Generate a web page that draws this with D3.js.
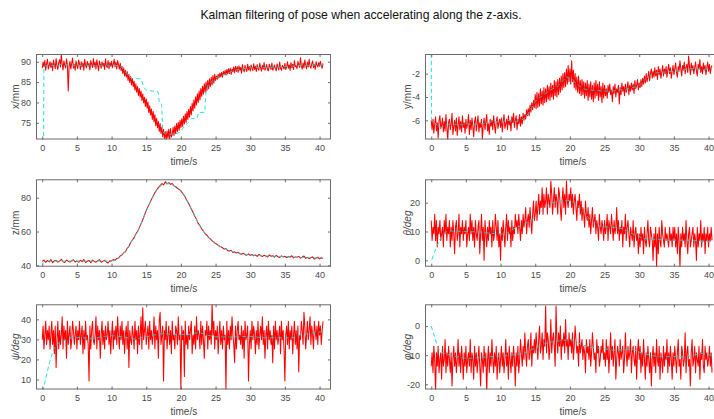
<!DOCTYPE html>
<html><head><meta charset="utf-8">
<script src="https://cdn.jsdelivr.net/npm/d3@7"></script>
<style>
body{margin:0;background:#fff;}
svg{display:block;}
text{font-family:"Liberation Sans",Arial,Helvetica,sans-serif;}
</style>
</head><body>
<svg id="chart" width="714" height="419"></svg>
<script>
const chartTitle = "Kalman filtering of pose when accelerating along the z-axis.";
const xAxisLabel = "time/s";
const timeTicks = [0, 5, 10, 15, 20, 25, 30, 35, 40];

// ---- measured (red) series; sampling interval in seconds, from t = 0 ----
const xStep = 0.125;
const xMeasured = [
88.4,89.9,88.8,90.3,87.9,89.5,90.6,88.2,89.1,90.0,88.6,89.7,87.8,90.4,89.2,88.3,90.8,89.0,88.1,89.8,90.5,88.7,91.8,89.4,88.0,90.2,89.1,88.5,90.7,89.3,82.8,88.9,90.1,88.2,89.6,90.9,88.4,89.3,87.9,90.2,
89.0,88.3,90.4,89.5,88.1,90.0,88.8,89.7,87.9,90.6,89.2,88.5,90.1,88.9,89.6,88.0,90.3,89.4,88.6,90.8,88.7,89.9,88.2,90.5,89.1,87.8,90.2,89.3,88.4,90.0,88.9,89.6,88.1,90.7,89.0,88.6,90.3,88.3,89.8,88.9,
90.1,88.5,89.4,90.6,88.7,89.9,88.2,90.3,89.3,88.2,89.6,87.8,88.9,87.1,88.5,86.5,87.9,86.2,87.6,85.4,86.9,84.9,86.4,84.3,85.9,83.9,85.2,83.0,84.6,82.5,83.9,81.7,83.4,81.3,82.8,80.5,82.1,79.9,81.3,79.0,
80.9,78.6,80.1,77.5,79.2,76.9,78.4,75.8,77.8,75.2,77.0,74.3,76.1,73.8,75.3,72.9,74.8,72.4,73.9,71.6,73.4,71.1,72.8,70.8,73.0,71.2,73.4,71.0,73.6,71.5,72.1,73.9,71.9,74.2,72.3,74.8,72.9,75.1,73.2,75.6,
73.8,76.0,74.1,76.6,74.7,77.2,75.1,77.8,75.8,78.3,76.4,79.0,77.0,79.8,77.9,80.6,78.6,81.4,79.4,82.1,80.0,82.8,80.6,83.4,81.5,84.0,82.0,84.6,82.5,85.0,82.9,85.4,83.4,85.8,83.9,86.2,84.3,86.6,84.7,86.9,
85.4,86.5,85.7,86.9,86.0,87.2,86.3,87.4,86.2,87.6,86.8,87.9,86.7,88.1,87.0,88.3,87.1,88.4,86.9,88.2,87.5,88.7,87.3,88.9,87.6,88.8,87.4,89.0,87.9,88.6,87.2,89.3,88.0,87.5,89.1,88.2,87.6,89.4,88.0,88.8,
87.7,89.2,88.4,87.8,89.5,88.1,88.9,87.6,89.3,88.3,87.9,89.6,88.5,87.7,89.1,88.2,89.8,87.9,88.6,89.3,88.0,87.8,89.4,88.7,88.1,89.7,87.9,88.5,89.2,88.3,87.8,89.5,88.6,88.0,89.9,88.4,87.9,89.1,88.8,88.2,
89.6,88.1,88.7,90.0,88.4,89.2,87.9,89.8,88.5,89.4,88.1,90.3,88.8,89.0,88.3,90.1,89.2,88.6,91.0,88.9,88.2,89.7,88.5,90.4,89.1,88.3,89.9,88.7,90.6,88.9,88.4,89.5,90.2,88.6,89.3,88.1,90.0,89.2,88.7,89.8,
88.9,90.1,89.0,88.4,89.6];

const yStep = 0.125;
const yMeasured = [
-6.0,-6.8,-5.9,-7.1,-6.3,-5.7,-6.9,-6.2,-7.5,-6.0,-5.6,-6.7,-6.4,-5.8,-7.0,-6.1,-6.9,-5.5,-6.6,-7.7,-6.2,-5.9,-6.8,-6.3,-5.4,-7.2,-6.5,-6.0,-6.9,-5.8,-7.3,-6.4,-5.7,-6.8,-6.1,-7.0,-5.6,-6.6,-6.2,-7.1,
-5.9,-6.7,-6.3,-5.5,-7.2,-6.0,-6.8,-5.8,-6.5,-7.4,-6.1,-5.7,-6.9,-6.3,-5.6,-7.0,-6.2,-6.6,-5.9,-7.6,-6.4,-5.8,-6.8,-6.1,-5.5,-6.9,-6.3,-7.2,-5.9,-6.5,-6.0,-6.8,-5.6,-6.4,-7.1,-6.1,-5.7,-6.7,-6.2,-5.9,
-6.6,-5.8,-7.0,-6.1,-5.5,-6.7,-6.3,-5.9,-6.8,-5.6,-6.4,-6.0,-6.9,-5.7,-6.2,-5.4,-6.6,-6.0,-5.6,-6.8,-5.9,-6.3,-5.5,-6.5,-5.7,-6.3,-5.4,-6.0,-5.5,-5.9,-5.1,-5.6,-5.0,-5.6,-4.7,-5.3,-4.5,-5.1,-4.3,-4.9,
-3.8,-5.0,-3.6,-4.9,-3.7,-4.8,-3.3,-4.6,-3.5,-4.7,-3.2,-4.5,-3.3,-4.4,-3.0,-4.2,-3.1,-4.3,-2.8,-4.0,-3.0,-4.2,-2.6,-3.9,-2.7,-4.0,-2.5,-3.8,-2.4,-3.6,-2.2,-3.4,-2.0,-3.2,-1.9,-3.1,-1.6,-2.9,-1.3,-2.7,
-1.6,-2.9,-0.9,-2.7,-1.7,-3.2,-2.0,-3.4,-2.3,-3.6,-2.2,-3.7,-2.6,-3.9,-2.5,-3.8,-2.7,-4.1,-2.8,-3.9,-2.6,-4.3,-2.9,-4.0,-2.7,-4.2,-3.0,-4.4,-2.8,-4.1,-2.6,-3.9,-2.9,-4.3,-2.7,-4.0,-3.1,-4.5,-2.8,-4.1,
-3.0,-3.9,-3.3,-4.1,-3.0,-3.6,-2.9,-3.8,-3.4,-4.4,-3.1,-3.7,-2.9,-4.0,-3.3,-3.6,-3.0,-4.6,-3.2,-3.8,-2.8,-3.5,-3.1,-3.9,-2.9,-3.6,-3.2,-2.7,-3.8,-3.0,-3.5,-2.8,-3.4,-2.9,-3.7,-2.6,-3.3,-3.0,-2.5,-3.4,
-2.8,-3.2,-2.5,-3.1,-2.4,-2.9,-2.2,-2.8,-2.0,-2.7,-2.3,-1.8,-2.6,-2.0,-1.6,-2.4,-1.8,-2.3,-1.5,-2.2,-1.7,-2.5,-1.4,-2.1,-1.6,-2.4,-1.9,-1.3,-2.2,-1.6,-2.0,-1.4,-2.3,-1.7,-1.2,-2.0,-1.5,-2.4,-1.8,-1.3,
-2.1,-1.6,-1.1,-1.9,-2.3,-1.4,-1.8,-0.9,-1.6,-2.2,-1.3,-1.7,-1.0,-2.0,-1.5,-1.2,-1.9,-0.5,-1.4,-2.1,-1.1,-1.7,-1.3,-2.0,-1.5,-1.0,-1.8,-2.2,-1.2,-1.6,-0.8,-1.9,-1.4,-2.0,-1.1,-1.7,-1.3,-2.1,-1.5,-1.0,
-1.8,-1.2,-2.0,-1.5,-1.3];

const zStep = 0.25;
const zMeasured = [
42.3,43.1,41.8,42.9,42.0,43.4,41.6,42.7,43.0,41.9,42.5,43.6,42.1,41.7,43.2,42.4,41.9,42.8,43.3,42.0,
42.6,41.8,43.0,42.2,43.5,41.7,42.4,42.9,41.6,43.1,42.3,41.9,42.8,43.4,41.8,42.5,43.0,42.0,41.4,42.7,
42.6,43.4,43.0,44.1,44.3,45.6,46.2,47.4,48.0,50.1,51.2,53.5,55.0,56.4,58.6,60.0,62.3,64.6,67.0,69.8,
72.4,74.6,76.8,79.0,81.0,82.9,84.6,86.0,87.1,88.4,87.6,89.5,88.2,88.9,87.9,88.4,87.0,86.5,85.6,84.9,
84.0,82.6,81.3,79.2,77.5,75.6,73.3,71.4,69.0,67.2,64.8,63.4,61.5,60.2,58.7,57.9,56.4,55.6,54.5,53.8,
52.9,52.3,51.5,51.0,50.4,49.6,49.9,48.7,48.5,48.9,47.6,48.0,47.3,47.8,46.9,46.6,47.2,46.3,46.0,46.8,
45.9,46.4,45.6,46.1,45.3,46.5,45.8,45.2,46.0,45.5,44.9,46.2,45.4,45.7,44.8,45.9,45.1,44.7,45.6,45.0,
45.4,44.6,45.2,44.9,45.7,44.4,45.0,44.8,45.3,44.2,44.9,45.5,44.1,44.7,43.9,44.6,45.0,43.7,44.3,44.8,
43.8,44.5,44.1];

const thetaStep = 0.125;
const thetaMeasured = [
13.8,6.9,11.5,9.2,16.0,6.9,13.8,4.6,11.5,9.2,13.8,6.9,9.2,11.5,4.6,13.8,9.2,16.0,6.9,11.5,9.2,13.8,4.6,11.5,6.9,13.8,9.2,2.3,11.5,13.8,6.9,9.2,16.0,4.6,11.5,9.2,13.8,6.9,11.5,9.2,
13.8,4.6,9.2,11.5,6.9,16.0,9.2,13.8,6.9,11.5,4.6,13.8,9.2,6.9,11.5,13.8,2.3,9.2,16.0,6.9,11.5,0.0,13.8,9.2,4.6,11.5,6.9,13.8,9.2,11.5,4.6,13.8,6.9,9.2,16.0,11.5,6.9,13.8,4.6,9.2,
0.0,11.5,6.9,13.8,9.2,4.6,11.5,16.0,6.9,13.8,9.2,11.5,4.6,13.8,6.9,11.5,9.2,16.0,11.5,13.8,9.2,16.0,11.5,6.9,13.8,9.2,16.0,11.5,13.8,18.3,9.2,13.8,16.0,11.5,18.3,13.8,9.2,16.0,20.6,13.8,
16.0,20.6,13.8,18.3,22.9,16.0,20.6,18.3,25.2,16.0,22.9,18.3,20.6,25.2,16.0,22.9,20.6,18.3,27.5,22.9,16.0,20.6,25.2,18.3,22.9,20.6,16.0,25.2,22.9,18.3,13.8,20.6,25.2,18.3,22.9,16.0,27.5,20.6,18.3,22.9,
20.6,25.2,18.3,22.9,16.0,20.6,22.9,18.3,13.8,20.6,18.3,22.9,16.0,20.6,13.8,18.3,16.0,11.5,20.6,16.0,13.8,18.3,11.5,16.0,9.2,13.8,18.3,11.5,13.8,16.0,9.2,13.8,11.5,6.9,16.0,11.5,9.2,13.8,11.5,6.9,
13.8,9.2,11.5,16.0,6.9,13.8,11.5,9.2,16.0,11.5,6.9,13.8,9.2,11.5,18.3,9.2,13.8,6.9,11.5,9.2,13.8,4.6,11.5,9.2,16.0,6.9,11.5,13.8,9.2,4.6,11.5,9.2,6.9,13.8,4.6,9.2,11.5,6.9,9.2,2.3,
9.2,4.6,11.5,6.9,9.2,2.3,11.5,6.9,4.6,9.2,13.8,6.9,4.6,11.5,9.2,6.9,0.0,9.2,4.6,11.5,-2.3,9.2,2.3,11.5,6.9,4.6,13.8,9.2,6.9,4.6,11.5,6.9,9.2,6.9,4.6,11.5,6.9,9.2,4.6,11.5,
6.9,11.5,4.6,9.2,2.3,11.5,6.9,-2.3,9.2,4.6,11.5,6.9,9.2,4.6,13.8,6.9,2.3,9.2,11.5,4.6,6.9,9.2,11.5,4.6,9.2,6.9,0.0,11.5,4.6,9.2,6.9,13.8,4.6,9.2,6.9,11.5,2.3,9.2,6.9,11.5,
4.6,9.2,6.9,11.5,6.9];

const psiStep = 0.125;
const psiMeasured = [
29.8,36.7,25.2,32.1,39.0,27.5,34.4,29.8,36.7,25.2,32.1,39.0,27.5,34.4,22.9,36.7,16.0,29.8,39.0,25.2,34.4,27.5,32.1,41.3,25.2,36.7,29.8,34.4,20.6,39.0,27.5,32.1,36.7,25.2,29.8,39.0,34.4,27.5,32.1,36.7,
25.2,34.4,29.8,39.0,27.5,32.1,36.7,22.9,34.4,25.2,39.0,29.8,32.1,27.5,9.2,36.7,25.2,34.4,39.0,29.8,27.5,32.1,41.3,25.2,36.7,29.8,34.4,20.6,32.1,39.0,27.5,34.4,25.2,36.7,29.8,32.1,39.0,27.5,34.4,22.9,
32.1,39.0,25.2,34.4,29.8,36.7,27.5,41.3,32.1,25.2,36.7,29.8,39.0,27.5,34.4,22.9,32.1,36.7,25.2,39.0,16.0,34.4,29.8,27.5,36.7,32.1,25.2,39.0,29.8,34.4,22.9,36.7,27.5,32.1,41.3,25.2,45.8,29.8,34.4,39.0,
27.5,32.1,36.7,25.2,39.0,29.8,34.4,27.5,32.1,41.3,25.2,36.7,29.8,34.4,20.6,39.0,43.5,27.5,32.1,36.7,9.2,34.4,29.8,39.0,25.2,32.1,36.7,27.5,34.4,22.9,39.0,29.8,32.1,25.2,36.7,34.4,27.5,41.3,29.8,32.1,
4.6,36.7,29.8,34.4,11.5,39.0,27.5,32.1,25.2,36.7,29.8,34.4,39.0,22.9,32.1,27.5,36.7,25.2,41.3,29.8,34.4,32.1,25.2,39.0,27.5,36.7,29.8,20.6,34.4,32.1,39.0,25.2,36.7,29.8,34.4,27.5,48.1,32.1,39.0,25.2,
34.4,29.8,36.7,22.9,32.1,39.0,27.5,34.4,25.2,36.7,29.8,32.1,4.6,39.0,27.5,34.4,25.2,36.7,29.8,41.3,32.1,27.5,18.3,36.7,25.2,34.4,39.0,29.8,32.1,27.5,36.7,25.2,34.4,20.6,39.0,29.8,32.1,36.7,9.2,27.5,
34.4,25.2,39.0,29.8,36.7,32.1,22.9,34.4,27.5,39.0,25.2,32.1,36.7,29.8,41.3,27.5,34.4,20.6,32.1,36.7,25.2,39.0,29.8,34.4,27.5,32.1,18.3,36.7,25.2,39.0,29.8,34.4,27.5,32.1,36.7,22.9,39.0,29.8,34.4,25.2,
9.2,32.1,36.7,27.5,39.0,25.2,34.4,29.8,36.7,22.9,32.1,39.0,27.5,34.4,25.2,36.7,13.8,32.1,29.8,39.0,34.4,27.5,43.5,36.7,25.2,32.1,39.0,29.8,34.4,41.3,27.5,36.7,32.1,25.2,39.0,34.4,29.8,36.7,27.5,39.0,
32.1,36.7,27.5,34.4,39.0];

const phiStep = 0.125;
const phiMeasured = [
-13.8,-9.2,-16.0,-6.9,-11.5,-22.9,-9.2,-13.8,-6.9,-16.0,-11.5,-9.2,-18.3,-6.9,-13.8,-11.5,-4.6,-16.0,-9.2,-13.8,-6.9,-11.5,-16.0,-9.2,-20.6,-11.5,-6.9,-13.8,-9.2,-16.0,-11.5,-4.6,-13.8,-9.2,-16.0,-6.9,-11.5,-18.3,-9.2,-13.8,
-6.9,-16.0,-11.5,-9.2,-13.8,-4.6,-16.0,-9.2,-11.5,-18.3,-6.9,-13.8,-9.2,-16.0,-11.5,-6.9,-13.8,-20.6,-9.2,-11.5,-16.0,-6.9,-13.8,-9.2,-22.9,-11.5,-6.9,-16.0,-9.2,-13.8,-4.6,-11.5,-16.0,-9.2,-13.8,-6.9,-18.3,-11.5,-9.2,-16.0,
-11.5,-6.9,-13.8,-9.2,-16.0,-11.5,-4.6,-13.8,-9.2,-18.3,-6.9,-11.5,-16.0,-9.2,-13.8,-6.9,-11.5,-20.6,-9.2,-13.8,-6.9,-16.0,-11.5,-4.6,-9.2,-13.8,-6.9,-11.5,-2.3,-9.2,-13.8,-6.9,-4.6,-11.5,-9.2,-2.3,-13.8,-6.9,-9.2,-4.6,
-9.2,-2.3,-6.9,-11.5,-4.6,0.0,-9.2,-6.9,-2.3,-11.5,-4.6,-6.9,6.9,-9.2,-2.3,-4.6,-11.5,-6.9,2.3,-9.2,-4.6,-2.3,-6.9,-13.8,6.9,-4.6,-9.2,-2.3,-6.9,0.0,-11.5,-4.6,-6.9,-2.3,-9.2,2.3,-6.9,-4.6,-11.5,-2.3,
-6.9,-4.6,-9.2,-2.3,-11.5,-6.9,0.0,-4.6,-9.2,-6.9,-13.8,-2.3,-9.2,-6.9,-4.6,-11.5,-6.9,-9.2,-16.0,-4.6,-9.2,-6.9,-11.5,-4.6,-13.8,-9.2,-2.3,-6.9,-11.5,-9.2,-16.0,-4.6,-9.2,-6.9,-13.8,-11.5,-6.9,-9.2,-4.6,-11.5,
-9.2,-13.8,-4.6,-11.5,-6.9,-16.0,-9.2,-2.3,-11.5,-6.9,-13.8,-9.2,-4.6,-18.3,-11.5,-6.9,-9.2,-13.8,-4.6,-11.5,-9.2,-6.9,-16.0,-11.5,-2.3,-9.2,-13.8,-6.9,-11.5,-9.2,-4.6,-16.0,-9.2,-6.9,-11.5,-13.8,-6.9,-18.3,-9.2,-4.6,
-11.5,-6.9,-16.0,-9.2,-13.8,-4.6,-11.5,-18.3,-9.2,-13.8,-6.9,-11.5,-16.0,-9.2,-20.6,-11.5,-6.9,-13.8,-9.2,-16.0,-4.6,-11.5,-13.8,-6.9,-18.3,-9.2,-11.5,-16.0,-6.9,-13.8,-9.2,-11.5,-4.6,-16.0,-9.2,-13.8,-6.9,-11.5,-18.3,-9.2,
-13.8,-6.9,-11.5,-16.0,-9.2,-4.6,-13.8,-11.5,-18.3,-6.9,-9.2,-13.8,-11.5,-2.3,-16.0,-9.2,-6.9,-13.8,-11.5,-20.6,-9.2,-4.6,-13.8,-11.5,-6.9,-16.0,-9.2,-11.5,-13.8,-6.9,-18.3,-9.2,-11.5,-4.6,-13.8,-16.0,-6.9,-11.5,-9.2,-13.8,
-11.5,-6.9,-13.8,-9.2,-16.0];

// ---- Kalman-filtered (cyan) estimates: times and values ----
const xFilteredT = [0.2,0.25,0.5,1,2,3,4,5,6,7,8,9,10,11,11.5,12,12.5,13,14.2,14.5,15,16.7,16.9,17.2,17.4,18,19,19.8,20.5,21.2,21.5,22.3,22.6,23.4,23.6,24,24.5,25,26,27,28,29,30,32,34,36,38,40,40.5];
const xFilteredV = [70.0,88.8,89.0,89.2,89.0,89.4,89.1,89.0,89.2,89.1,88.9,89.2,89.1,89.0,88.6,87.5,86.5,85.9,85.8,84.5,83.0,82.6,80.0,79.5,72.8,72.2,72.3,72.6,74.2,75.3,76.0,76.1,77.5,77.6,82.0,84.5,85.2,85.9,86.7,87.4,88.0,88.3,88.5,88.6,88.7,88.9,89.1,89.2,89.2];
const yFilteredT = [0,0.05,0.5,1,1.5,2,3,4,5,6,7,8,9,10,11,12,13,13.5,14,14.5,15,15.5,16,16.5,17,17.5,18,18.5,19,19.5,20,20.5,21,21.5,22,23,24,25,26,27,28,29,30,30.5,31,31.5,32,33,34,35,36,37,38,39,40,40.5];
const yFilteredV = [-0.3,-6.0,-6.2,-6.5,-6.6,-6.4,-6.3,-6.4,-6.3,-6.35,-6.3,-6.25,-6.1,-6.15,-6.0,-6.1,-5.95,-5.8,-5.4,-4.9,-4.4,-4.1,-3.9,-3.7,-3.5,-3.3,-3.2,-2.9,-2.6,-2.3,-2.4,-2.6,-2.9,-3.1,-3.3,-3.4,-3.45,-3.5,-3.5,-3.4,-3.35,-3.2,-3.0,-2.7,-2.4,-2.2,-2.0,-1.9,-1.85,-1.8,-1.7,-1.6,-1.55,-1.65,-1.6,-1.6];
const zFilteredT = [0,0.3,1,5,10,10.5,11,11.5,12,13,14,15,16,16.5,17,17.5,18,18.5,19,19.5,20,21,22,23,24,25,26,27,28,29,30,32,34,36,38,40,40.5];
const zFilteredV = [40.6,42.3,42.5,42.5,42.6,43.2,44.3,46.0,48.3,55.0,62.3,72.0,80.8,84.3,86.8,88.0,88.4,88.1,87.0,85.6,83.8,77.3,69.0,61.6,56.5,53.0,50.5,48.8,47.6,46.8,46.2,45.6,45.3,45.0,44.6,44.3,44.2];
const thetaFilteredT = [0.1,1.3,2,3,5,7,9,10.5,11.9,12.5,14.3,15,15.7,17.1,18,19.5,20,21,22.4,23,23.9,25.8,27.7,28.5,29.6,31.1,33,34.4,37.3,39.7,40.5];
const thetaFilteredV = [0.35,7.4,9.7,10.2,10.0,9.8,9.3,9.1,10.9,11.6,13.8,15.0,16.7,19.6,20.3,20.8,20.7,19.1,15.6,14.0,12.1,11.5,10.9,9.8,8.6,7.4,7.2,7.0,7.0,6.5,6.6];
const psiFilteredT = [0.1,2,3,3.5,4.5,5,7,9,10,12,13,15,17.5,19,20,21,22.5,24,25,27,30,32,35,36.5,37,38.5,40,40.5];
const psiFilteredV = [4.0,27.0,29.0,30.0,31.0,31.0,30.5,31.5,31.8,31.0,30.2,31.3,32.8,32.4,32.5,32.4,33.3,32.0,31.3,31.2,31.5,30.8,30.8,31.0,32.0,32.8,33.7,33.8];
const phiFilteredT = [0,0.5,1.05,1.5,2.7,4,5.1,6,8.5,11.4,13.8,15.2,17.1,18.5,20,21,22,23,24.8,26.3,28.7,30.6,33,36.4,38,39.2,40.7];
const phiFilteredV = [0.0,-3.8,-7.7,-8.8,-10.0,-10.6,-11.1,-11.0,-10.5,-10.0,-8.9,-7.2,-5.5,-5.1,-4.7,-5.6,-6.6,-7.3,-7.7,-8.3,-8.0,-9.4,-10.5,-10.5,-9.9,-9.4,-10.5];

// ---- y-axis tick values per panel ----
const xTicksY = [75, 80, 85, 90];
const yTicksY = [-6, -4, -2];
const zTicksY = [40, 60, 80];
const thetaTicksY = [0, 10, 20];
const psiTicksY = [10, 20, 30, 40];
const phiTicksY = [-20, -10, 0];

const panels = [
  {label:"x/mm", meas:xMeasured, step:xStep, fT:xFilteredT, fV:xFilteredV, dom:[70.9,91.9], ticks:xTicksY, col:0, row:0},
  {label:"y/mm", meas:yMeasured, step:yStep, fT:yFilteredT, fV:yFilteredV, dom:[-7.64,-0.32], ticks:yTicksY, col:1, row:0},
  {label:"z/mm", meas:zMeasured, step:zStep, fT:zFilteredT, fV:zFilteredV, dom:[39.2,90.9], ticks:zTicksY, col:0, row:1},
  {label:"θ/deg", meas:thetaMeasured, step:thetaStep, fT:thetaFilteredT, fV:thetaFilteredV, dom:[-2.2,28.1], ticks:thetaTicksY, col:1, row:1, italic:true},
  {label:"ψ/deg", meas:psiMeasured, step:psiStep, fT:psiFilteredT, fV:psiFilteredV, dom:[5,47.5], ticks:psiTicksY, col:0, row:2, italic:true},
  {label:"φ/deg", meas:phiMeasured, step:phiStep, fT:phiFilteredT, fV:phiFilteredV, dom:[-21.8,7.5], ticks:phiTicksY, col:1, row:2, italic:true}
];

const svg = d3.select("#chart");
const colLeft = [36, 425];
const colWidth = 295;
const rowTop = [54, 179.3, 304.3];
const rowBottom = [139.5, 266.7, 389.5];
const axisColor = "#6b6b6b";
const textColor = "#4a4a4a";
const tickLen = 3;

svg.append("text").attr("x", 361).attr("y", 18.5).attr("text-anchor","middle")
  .attr("font-size", 12.2).attr("fill", "#111").text(chartTitle);

const defs = svg.append("defs");

panels.forEach((p, idx) => {
  const x0 = colLeft[p.col], x1 = x0 + colWidth;
  const y0 = rowTop[p.row], y1 = rowBottom[p.row];
  const xs = d3.scaleLinear().domain([-0.9, 41.65]).range([x0, x1]);
  const ys = d3.scaleLinear().domain(p.dom).range([y1, y0]);

  defs.append("clipPath").attr("id", "clip" + idx)
    .append("rect").attr("x", x0).attr("y", y0).attr("width", x1 - x0).attr("height", y1 - y0);

  const g = svg.append("g");
  const plot = g.append("g").attr("clip-path", `url(#clip${idx})`);

  const measData = p.meas.map((v, i) => [i * p.step, v]);
  const line = d3.line().x(d => xs(d[0])).y(d => ys(d[1]));
  plot.append("path").datum(measData).attr("d", line)
    .attr("fill", "none").attr("stroke", "#ff0000").attr("stroke-width", 1.05)
    .attr("stroke-linejoin", "round");

  const filtData = p.fT.map((t, i) => [t, p.fV[i]]);
  const fline = d3.line().x(d => xs(d[0])).y(d => ys(d[1])).curve(d3.curveMonotoneX);
  plot.append("path").datum(filtData).attr("d", fline)
    .attr("fill", "none").attr("stroke", "#00dede").attr("stroke-width", 0.9)
    .attr("stroke-dasharray", "4,3");

  const axB = d3.axisBottom(xs).tickValues(timeTicks).tickSize(-tickLen).tickPadding(5).tickFormat(d3.format("d"));
  const axT = d3.axisTop(xs).tickValues(timeTicks).tickSize(-tickLen).tickFormat("");
  const axL = d3.axisLeft(ys).tickValues(p.ticks).tickSize(-tickLen).tickPadding(5).tickFormat(d3.format("d"));
  const axR = d3.axisRight(ys).tickValues(p.ticks).tickSize(-tickLen).tickFormat("");

  const style = sel => {
    sel.select(".domain").remove();
    sel.selectAll(".tick line").attr("stroke", axisColor).attr("stroke-width", 1);
    sel.selectAll(".tick text").attr("fill", textColor).attr("font-size", 9)
      .attr("font-family", '"Liberation Sans",Arial,sans-serif');
  };
  g.append("g").attr("transform", `translate(0,${y1})`).call(axB).call(style);
  g.append("g").attr("transform", `translate(0,${y0})`).call(axT).call(style);
  g.append("g").attr("transform", `translate(${x0},0)`).call(axL).call(style);
  g.append("g").attr("transform", `translate(${x1},0)`).call(axR).call(style);
  g.selectAll(".tick text").each(function(){ d3.select(this).text(d3.select(this).text().replace("−","-")); });

  g.append("rect").attr("x", x0 + 0.5).attr("y", y0 + 0.5)
    .attr("width", x1 - x0 - 1).attr("height", y1 - y0 - 1)
    .attr("fill", "none").attr("stroke", axisColor).attr("stroke-width", 1);

  g.append("text").attr("x", (x0 + xs(40.6)) / 2 + 4).attr("y", y1 + 25)
    .attr("text-anchor", "middle").attr("font-size", 10).attr("fill", textColor).text(xAxisLabel);

  const lx = p.col === 0 ? 15 : 407;
  g.append("text").attr("transform", `translate(${lx},${(y0 + y1) / 2}) rotate(-90)`)
    .attr("text-anchor", "middle").attr("dy", "0.35em").attr("font-size", 10).attr("fill", textColor)
    .attr("font-style", p.italic ? "italic" : null)
    .text(p.label);
});
</script>
</body></html>
